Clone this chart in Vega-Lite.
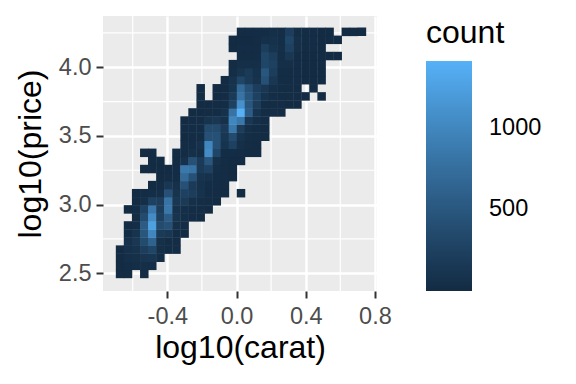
{"$schema":"https://vega.github.io/schema/vega-lite/v6.json","width":274,"height":275,"autosize":"none","padding":{"left":103,"top":16,"right":199,"bottom":93},"background":"white","view":{"fill":"#EBEBEB","stroke":null},
"config":{"font":"Liberation Sans"},
"layer":[
{"data":{"values":[{"v":-0.6},{"v":-0.2},{"v":0.2},{"v":0.6}]},"mark":{"type":"rule","color":"white","strokeWidth":1.2},"encoding":{"x":{"field":"v","type":"quantitative","scale":{"domain":[-0.7717,0.8121],"nice":false,"zero":false},"axis":{"title":"log10(carat)","values":[-0.4,0,0.4,0.8],"labelExpr":"datum.value<0?'-'+format(-datum.value,'.1f'):format(datum.value,'.1f')","grid":true,"gridColor":"white","gridWidth":2.4,"domain":false,"tickColor":"#333333","tickWidth":2,"tickSize":7,"labelColor":"#4D4D4D","labelFontSize":23.5,"labelPadding":6,"titleFontSize":32,"titleFontWeight":"normal","titleColor":"black","titlePadding":5}}}},
{"data":{"values":[{"v":2.75},{"v":3.25},{"v":3.75},{"v":4.25}]},"mark":{"type":"rule","color":"white","strokeWidth":1.2},"encoding":{"y":{"field":"v","type":"quantitative","scale":{"domain":[2.3707,4.3736],"nice":false,"zero":false},"axis":{"title":"log10(price)","values":[2.5,3,3.5,4],"format":".1f","grid":true,"gridColor":"white","gridWidth":2.4,"domain":false,"tickColor":"#333333","tickWidth":2,"tickSize":7,"labelColor":"#4D4D4D","labelFontSize":23.5,"labelPadding":5,"titleFontSize":32,"titleFontWeight":"normal","titleColor":"black","titlePadding":11}}}},
{"data":{"values":[
{"x":-0.673,"y":2.495,"count":5},{"x":-0.627,"y":2.495,"count":5},{"x":-0.533,"y":2.495,"count":3},
{"x":-0.673,"y":2.554,"count":10},{"x":-0.627,"y":2.554,"count":25},{"x":-0.58,"y":2.554,"count":40},{"x":-0.533,"y":2.554,"count":50},{"x":-0.487,"y":2.554,"count":40},
{"x":-0.673,"y":2.613,"count":10},{"x":-0.627,"y":2.613,"count":50},{"x":-0.58,"y":2.613,"count":60},{"x":-0.533,"y":2.613,"count":110},{"x":-0.487,"y":2.613,"count":125},{"x":-0.44,"y":2.613,"count":40},
{"x":-0.673,"y":2.672,"count":10},{"x":-0.627,"y":2.672,"count":65},{"x":-0.58,"y":2.672,"count":80},{"x":-0.533,"y":2.672,"count":215},{"x":-0.487,"y":2.672,"count":310},{"x":-0.44,"y":2.672,"count":50},{"x":-0.394,"y":2.672,"count":30},{"x":-0.347,"y":2.672,"count":15},
{"x":-0.627,"y":2.73,"count":70},{"x":-0.58,"y":2.73,"count":140},{"x":-0.533,"y":2.73,"count":370},{"x":-0.487,"y":2.73,"count":620},{"x":-0.44,"y":2.73,"count":60},{"x":-0.394,"y":2.73,"count":30},{"x":-0.347,"y":2.73,"count":20},
{"x":-0.627,"y":2.789,"count":30},{"x":-0.58,"y":2.789,"count":105},{"x":-0.533,"y":2.789,"count":490},{"x":-0.487,"y":2.789,"count":1000},{"x":-0.44,"y":2.789,"count":175},{"x":-0.394,"y":2.789,"count":140},{"x":-0.347,"y":2.789,"count":30},{"x":-0.3,"y":2.789,"count":10},
{"x":-0.627,"y":2.848,"count":15},{"x":-0.58,"y":2.848,"count":40},{"x":-0.533,"y":2.848,"count":560},{"x":-0.487,"y":2.848,"count":1250},{"x":-0.44,"y":2.848,"count":370},{"x":-0.394,"y":2.848,"count":430},{"x":-0.347,"y":2.848,"count":60},{"x":-0.3,"y":2.848,"count":15},
{"x":-0.58,"y":2.907,"count":20},{"x":-0.533,"y":2.907,"count":370},{"x":-0.487,"y":2.907,"count":1050},{"x":-0.44,"y":2.907,"count":260},{"x":-0.394,"y":2.907,"count":560},{"x":-0.347,"y":2.907,"count":105},{"x":-0.3,"y":2.907,"count":40},{"x":-0.254,"y":2.907,"count":15},{"x":-0.207,"y":2.907,"count":5},
{"x":-0.627,"y":2.965,"count":5},{"x":-0.58,"y":2.965,"count":30},{"x":-0.533,"y":2.965,"count":260},{"x":-0.487,"y":2.965,"count":850},{"x":-0.44,"y":2.965,"count":215},{"x":-0.394,"y":2.965,"count":850},{"x":-0.347,"y":2.965,"count":70},{"x":-0.3,"y":2.965,"count":55},{"x":-0.254,"y":2.965,"count":30},{"x":-0.207,"y":2.965,"count":20},{"x":-0.161,"y":2.965,"count":5},
{"x":-0.58,"y":3.024,"count":8},{"x":-0.533,"y":3.024,"count":50},{"x":-0.487,"y":3.024,"count":260},{"x":-0.44,"y":3.024,"count":215},{"x":-0.394,"y":3.024,"count":800},{"x":-0.347,"y":3.024,"count":140},{"x":-0.3,"y":3.024,"count":175},{"x":-0.254,"y":3.024,"count":60},{"x":-0.207,"y":3.024,"count":40},{"x":-0.161,"y":3.024,"count":20},{"x":-0.114,"y":3.024,"count":8},
{"x":-0.58,"y":3.083,"count":5},{"x":-0.533,"y":3.083,"count":25},{"x":-0.487,"y":3.083,"count":40},{"x":-0.44,"y":3.083,"count":50},{"x":-0.394,"y":3.083,"count":430},{"x":-0.347,"y":3.083,"count":105},{"x":-0.3,"y":3.083,"count":260},{"x":-0.254,"y":3.083,"count":215},{"x":-0.207,"y":3.083,"count":85},{"x":-0.161,"y":3.083,"count":30},{"x":-0.114,"y":3.083,"count":15},{"x":-0.067,"y":3.083,"count":6},{"x":0.026,"y":3.083,"count":3},
{"x":-0.487,"y":3.142,"count":5},{"x":-0.44,"y":3.142,"count":20},{"x":-0.394,"y":3.142,"count":140},{"x":-0.347,"y":3.142,"count":70},{"x":-0.3,"y":3.142,"count":430},{"x":-0.254,"y":3.142,"count":175},{"x":-0.207,"y":3.142,"count":70},{"x":-0.161,"y":3.142,"count":30},{"x":-0.114,"y":3.142,"count":15},{"x":-0.067,"y":3.142,"count":8},
{"x":-0.44,"y":3.2,"count":8},{"x":-0.394,"y":3.2,"count":15},{"x":-0.347,"y":3.2,"count":30},{"x":-0.3,"y":3.2,"count":700},{"x":-0.254,"y":3.2,"count":430},{"x":-0.207,"y":3.2,"count":105},{"x":-0.161,"y":3.2,"count":70},{"x":-0.114,"y":3.2,"count":30},{"x":-0.067,"y":3.2,"count":15},{"x":-0.021,"y":3.2,"count":8},
{"x":-0.533,"y":3.259,"count":5},{"x":-0.487,"y":3.259,"count":5},{"x":-0.44,"y":3.259,"count":5},{"x":-0.394,"y":3.259,"count":8},{"x":-0.347,"y":3.259,"count":15},{"x":-0.3,"y":3.259,"count":850},{"x":-0.254,"y":3.259,"count":800},{"x":-0.207,"y":3.259,"count":175},{"x":-0.161,"y":3.259,"count":260},{"x":-0.114,"y":3.259,"count":40},{"x":-0.067,"y":3.259,"count":20},{"x":-0.021,"y":3.259,"count":8},
{"x":-0.487,"y":3.318,"count":3},{"x":-0.44,"y":3.318,"count":3},{"x":-0.347,"y":3.318,"count":5},{"x":-0.3,"y":3.318,"count":70},{"x":-0.254,"y":3.318,"count":430},{"x":-0.207,"y":3.318,"count":175},{"x":-0.161,"y":3.318,"count":490},{"x":-0.114,"y":3.318,"count":60},{"x":-0.067,"y":3.318,"count":20},{"x":-0.021,"y":3.318,"count":10},{"x":0.026,"y":3.318,"count":5},
{"x":-0.533,"y":3.377,"count":3},{"x":-0.487,"y":3.377,"count":3},{"x":-0.347,"y":3.377,"count":5},{"x":-0.3,"y":3.377,"count":15},{"x":-0.254,"y":3.377,"count":60},{"x":-0.207,"y":3.377,"count":40},{"x":-0.161,"y":3.377,"count":1050},{"x":-0.114,"y":3.377,"count":310},{"x":-0.067,"y":3.377,"count":30},{"x":-0.021,"y":3.377,"count":30},{"x":0.026,"y":3.377,"count":15},{"x":0.072,"y":3.377,"count":10},{"x":0.119,"y":3.377,"count":5},
{"x":-0.3,"y":3.436,"count":15},{"x":-0.254,"y":3.436,"count":25},{"x":-0.207,"y":3.436,"count":70},{"x":-0.161,"y":3.436,"count":1000},{"x":-0.114,"y":3.436,"count":430},{"x":-0.067,"y":3.436,"count":105},{"x":-0.021,"y":3.436,"count":260},{"x":0.026,"y":3.436,"count":50},{"x":0.072,"y":3.436,"count":20},{"x":0.119,"y":3.436,"count":10},
{"x":-0.3,"y":3.494,"count":10},{"x":-0.254,"y":3.494,"count":15},{"x":-0.207,"y":3.494,"count":30},{"x":-0.161,"y":3.494,"count":430},{"x":-0.114,"y":3.494,"count":430},{"x":-0.067,"y":3.494,"count":140},{"x":-0.021,"y":3.494,"count":370},{"x":0.026,"y":3.494,"count":85},{"x":0.072,"y":3.494,"count":40},{"x":0.119,"y":3.494,"count":20},{"x":0.166,"y":3.494,"count":8},
{"x":-0.3,"y":3.553,"count":15},{"x":-0.254,"y":3.553,"count":25},{"x":-0.207,"y":3.553,"count":30},{"x":-0.161,"y":3.553,"count":370},{"x":-0.114,"y":3.553,"count":370},{"x":-0.067,"y":3.553,"count":175},{"x":-0.021,"y":3.553,"count":850},{"x":0.026,"y":3.553,"count":200},{"x":0.072,"y":3.553,"count":55},{"x":0.119,"y":3.553,"count":25},{"x":0.166,"y":3.553,"count":8},
{"x":-0.3,"y":3.612,"count":10},{"x":-0.254,"y":3.612,"count":15},{"x":-0.207,"y":3.612,"count":15},{"x":-0.161,"y":3.612,"count":105},{"x":-0.114,"y":3.612,"count":140},{"x":-0.067,"y":3.612,"count":70},{"x":-0.021,"y":3.612,"count":1000},{"x":0.026,"y":3.612,"count":850},{"x":0.072,"y":3.612,"count":140},{"x":0.119,"y":3.612,"count":50},{"x":0.166,"y":3.612,"count":15},
{"x":-0.254,"y":3.671,"count":8},{"x":-0.207,"y":3.671,"count":10},{"x":-0.161,"y":3.671,"count":20},{"x":-0.114,"y":3.671,"count":30},{"x":-0.067,"y":3.671,"count":70},{"x":-0.021,"y":3.671,"count":800},{"x":0.026,"y":3.671,"count":1408},{"x":0.072,"y":3.671,"count":560},{"x":0.119,"y":3.671,"count":105},{"x":0.166,"y":3.671,"count":25},{"x":0.212,"y":3.671,"count":15},{"x":0.259,"y":3.671,"count":8},
{"x":-0.207,"y":3.729,"count":5},{"x":-0.161,"y":3.729,"count":10},{"x":-0.114,"y":3.729,"count":15},{"x":-0.067,"y":3.729,"count":30},{"x":-0.021,"y":3.729,"count":260},{"x":0.026,"y":3.729,"count":1100},{"x":0.072,"y":3.729,"count":490},{"x":0.119,"y":3.729,"count":200},{"x":0.166,"y":3.729,"count":30},{"x":0.212,"y":3.729,"count":20},{"x":0.259,"y":3.729,"count":15},{"x":0.305,"y":3.729,"count":10},{"x":0.352,"y":3.729,"count":5},
{"x":-0.207,"y":3.788,"count":3},{"x":-0.114,"y":3.788,"count":5},{"x":-0.067,"y":3.788,"count":15},{"x":-0.021,"y":3.788,"count":175},{"x":0.026,"y":3.788,"count":800},{"x":0.072,"y":3.788,"count":490},{"x":0.119,"y":3.788,"count":260},{"x":0.166,"y":3.788,"count":85},{"x":0.212,"y":3.788,"count":40},{"x":0.259,"y":3.788,"count":25},{"x":0.305,"y":3.788,"count":20},{"x":0.352,"y":3.788,"count":15},{"x":0.399,"y":3.788,"count":5},{"x":0.492,"y":3.788,"count":3},
{"x":-0.207,"y":3.847,"count":3},{"x":-0.114,"y":3.847,"count":5},{"x":-0.067,"y":3.847,"count":8},{"x":-0.021,"y":3.847,"count":105},{"x":0.026,"y":3.847,"count":700},{"x":0.072,"y":3.847,"count":430},{"x":0.119,"y":3.847,"count":215},{"x":0.166,"y":3.847,"count":140},{"x":0.212,"y":3.847,"count":50},{"x":0.259,"y":3.847,"count":30},{"x":0.305,"y":3.847,"count":20},{"x":0.352,"y":3.847,"count":10},{"x":0.445,"y":3.847,"count":3},
{"x":-0.067,"y":3.906,"count":10},{"x":-0.021,"y":3.906,"count":85},{"x":0.026,"y":3.906,"count":310},{"x":0.072,"y":3.906,"count":175},{"x":0.119,"y":3.906,"count":85},{"x":0.166,"y":3.906,"count":430},{"x":0.212,"y":3.906,"count":140},{"x":0.259,"y":3.906,"count":25},{"x":0.305,"y":3.906,"count":15},{"x":0.352,"y":3.906,"count":15},{"x":0.399,"y":3.906,"count":10},{"x":0.445,"y":3.906,"count":8},{"x":0.492,"y":3.906,"count":5},
{"x":-0.021,"y":3.964,"count":40},{"x":0.026,"y":3.964,"count":105},{"x":0.072,"y":3.964,"count":175},{"x":0.119,"y":3.964,"count":70},{"x":0.166,"y":3.964,"count":490},{"x":0.212,"y":3.964,"count":215},{"x":0.259,"y":3.964,"count":30},{"x":0.305,"y":3.964,"count":20},{"x":0.352,"y":3.964,"count":15},{"x":0.399,"y":3.964,"count":10},{"x":0.445,"y":3.964,"count":8},{"x":0.492,"y":3.964,"count":5},
{"x":-0.021,"y":4.023,"count":20},{"x":0.026,"y":4.023,"count":50},{"x":0.072,"y":4.023,"count":55},{"x":0.119,"y":4.023,"count":50},{"x":0.166,"y":4.023,"count":310},{"x":0.212,"y":4.023,"count":260},{"x":0.259,"y":4.023,"count":45},{"x":0.305,"y":4.023,"count":50},{"x":0.352,"y":4.023,"count":15},{"x":0.399,"y":4.023,"count":10},{"x":0.445,"y":4.023,"count":8},{"x":0.492,"y":4.023,"count":6},
{"x":0.026,"y":4.082,"count":20},{"x":0.072,"y":4.082,"count":20},{"x":0.119,"y":4.082,"count":30},{"x":0.166,"y":4.082,"count":310},{"x":0.212,"y":4.082,"count":215},{"x":0.259,"y":4.082,"count":40},{"x":0.305,"y":4.082,"count":140},{"x":0.352,"y":4.082,"count":20},{"x":0.399,"y":4.082,"count":10},{"x":0.445,"y":4.082,"count":10},{"x":0.492,"y":4.082,"count":8},{"x":0.538,"y":4.082,"count":5},{"x":0.585,"y":4.082,"count":3},
{"x":-0.021,"y":4.141,"count":8},{"x":0.026,"y":4.141,"count":15},{"x":0.072,"y":4.141,"count":15},{"x":0.119,"y":4.141,"count":20},{"x":0.166,"y":4.141,"count":215},{"x":0.212,"y":4.141,"count":105},{"x":0.259,"y":4.141,"count":45},{"x":0.305,"y":4.141,"count":260},{"x":0.352,"y":4.141,"count":60},{"x":0.399,"y":4.141,"count":20},{"x":0.445,"y":4.141,"count":15},{"x":0.492,"y":4.141,"count":10},
{"x":-0.021,"y":4.2,"count":10},{"x":0.026,"y":4.2,"count":10},{"x":0.072,"y":4.2,"count":10},{"x":0.119,"y":4.2,"count":15},{"x":0.166,"y":4.2,"count":60},{"x":0.212,"y":4.2,"count":70},{"x":0.259,"y":4.2,"count":40},{"x":0.305,"y":4.2,"count":310},{"x":0.352,"y":4.2,"count":60},{"x":0.399,"y":4.2,"count":30},{"x":0.445,"y":4.2,"count":15},{"x":0.492,"y":4.2,"count":10},{"x":0.538,"y":4.2,"count":8},{"x":0.585,"y":4.2,"count":3},
{"x":0.026,"y":4.258,"count":20},{"x":0.072,"y":4.258,"count":15},{"x":0.119,"y":4.258,"count":15},{"x":0.166,"y":4.258,"count":30},{"x":0.212,"y":4.258,"count":45},{"x":0.259,"y":4.258,"count":40},{"x":0.305,"y":4.258,"count":215},{"x":0.352,"y":4.258,"count":40},{"x":0.399,"y":4.258,"count":25},{"x":0.445,"y":4.258,"count":15},{"x":0.492,"y":4.258,"count":10},{"x":0.538,"y":4.258,"count":5},{"x":0.632,"y":4.258,"count":5},{"x":0.678,"y":4.258,"count":5},{"x":0.725,"y":4.258,"count":5}
]},
"mark":{"type":"rect","width":8.5,"height":8.5},
"encoding":{
"x":{"field":"x","type":"quantitative","scale":{"domain":[-0.7717,0.8121],"nice":false,"zero":false},"axis":{"title":"log10(carat)","values":[-0.4,0,0.4,0.8],"labelExpr":"datum.value<0?'-'+format(-datum.value,'.1f'):format(datum.value,'.1f')","grid":true,"gridColor":"white","gridWidth":2.4,"domain":false,"tickColor":"#333333","tickWidth":2,"tickSize":7,"labelColor":"#4D4D4D","labelFontSize":23.5,"labelPadding":6,"titleFontSize":32,"titleFontWeight":"normal","titleColor":"black","titlePadding":5}},
"y":{"field":"y","type":"quantitative","scale":{"domain":[2.3707,4.3736],"nice":false,"zero":false},"axis":{"title":"log10(price)","values":[2.5,3,3.5,4],"format":".1f","grid":true,"gridColor":"white","gridWidth":2.4,"domain":false,"tickColor":"#333333","tickWidth":2,"tickSize":7,"labelColor":"#4D4D4D","labelFontSize":23.5,"labelPadding":5,"titleFontSize":32,"titleFontWeight":"normal","titleColor":"black","titlePadding":11}},
"color":{"field":"count","type":"quantitative","scale":{"domain":[1,1408],"range":["#132B43","#56B1F7"],"interpolate":"lab"},"legend":{"title":"count","orient":"none","legendX":323,"legendY":1.5,"values":[500,1000],"format":"d","gradientLength":230,"gradientThickness":46,"gradientStrokeWidth":0,"titleFontSize":32,"titleFontWeight":"normal","titleColor":"black","titlePadding":11.5,"labelFontSize":23.5,"labelColor":"black","labelOffset":17}}
}}
]}
